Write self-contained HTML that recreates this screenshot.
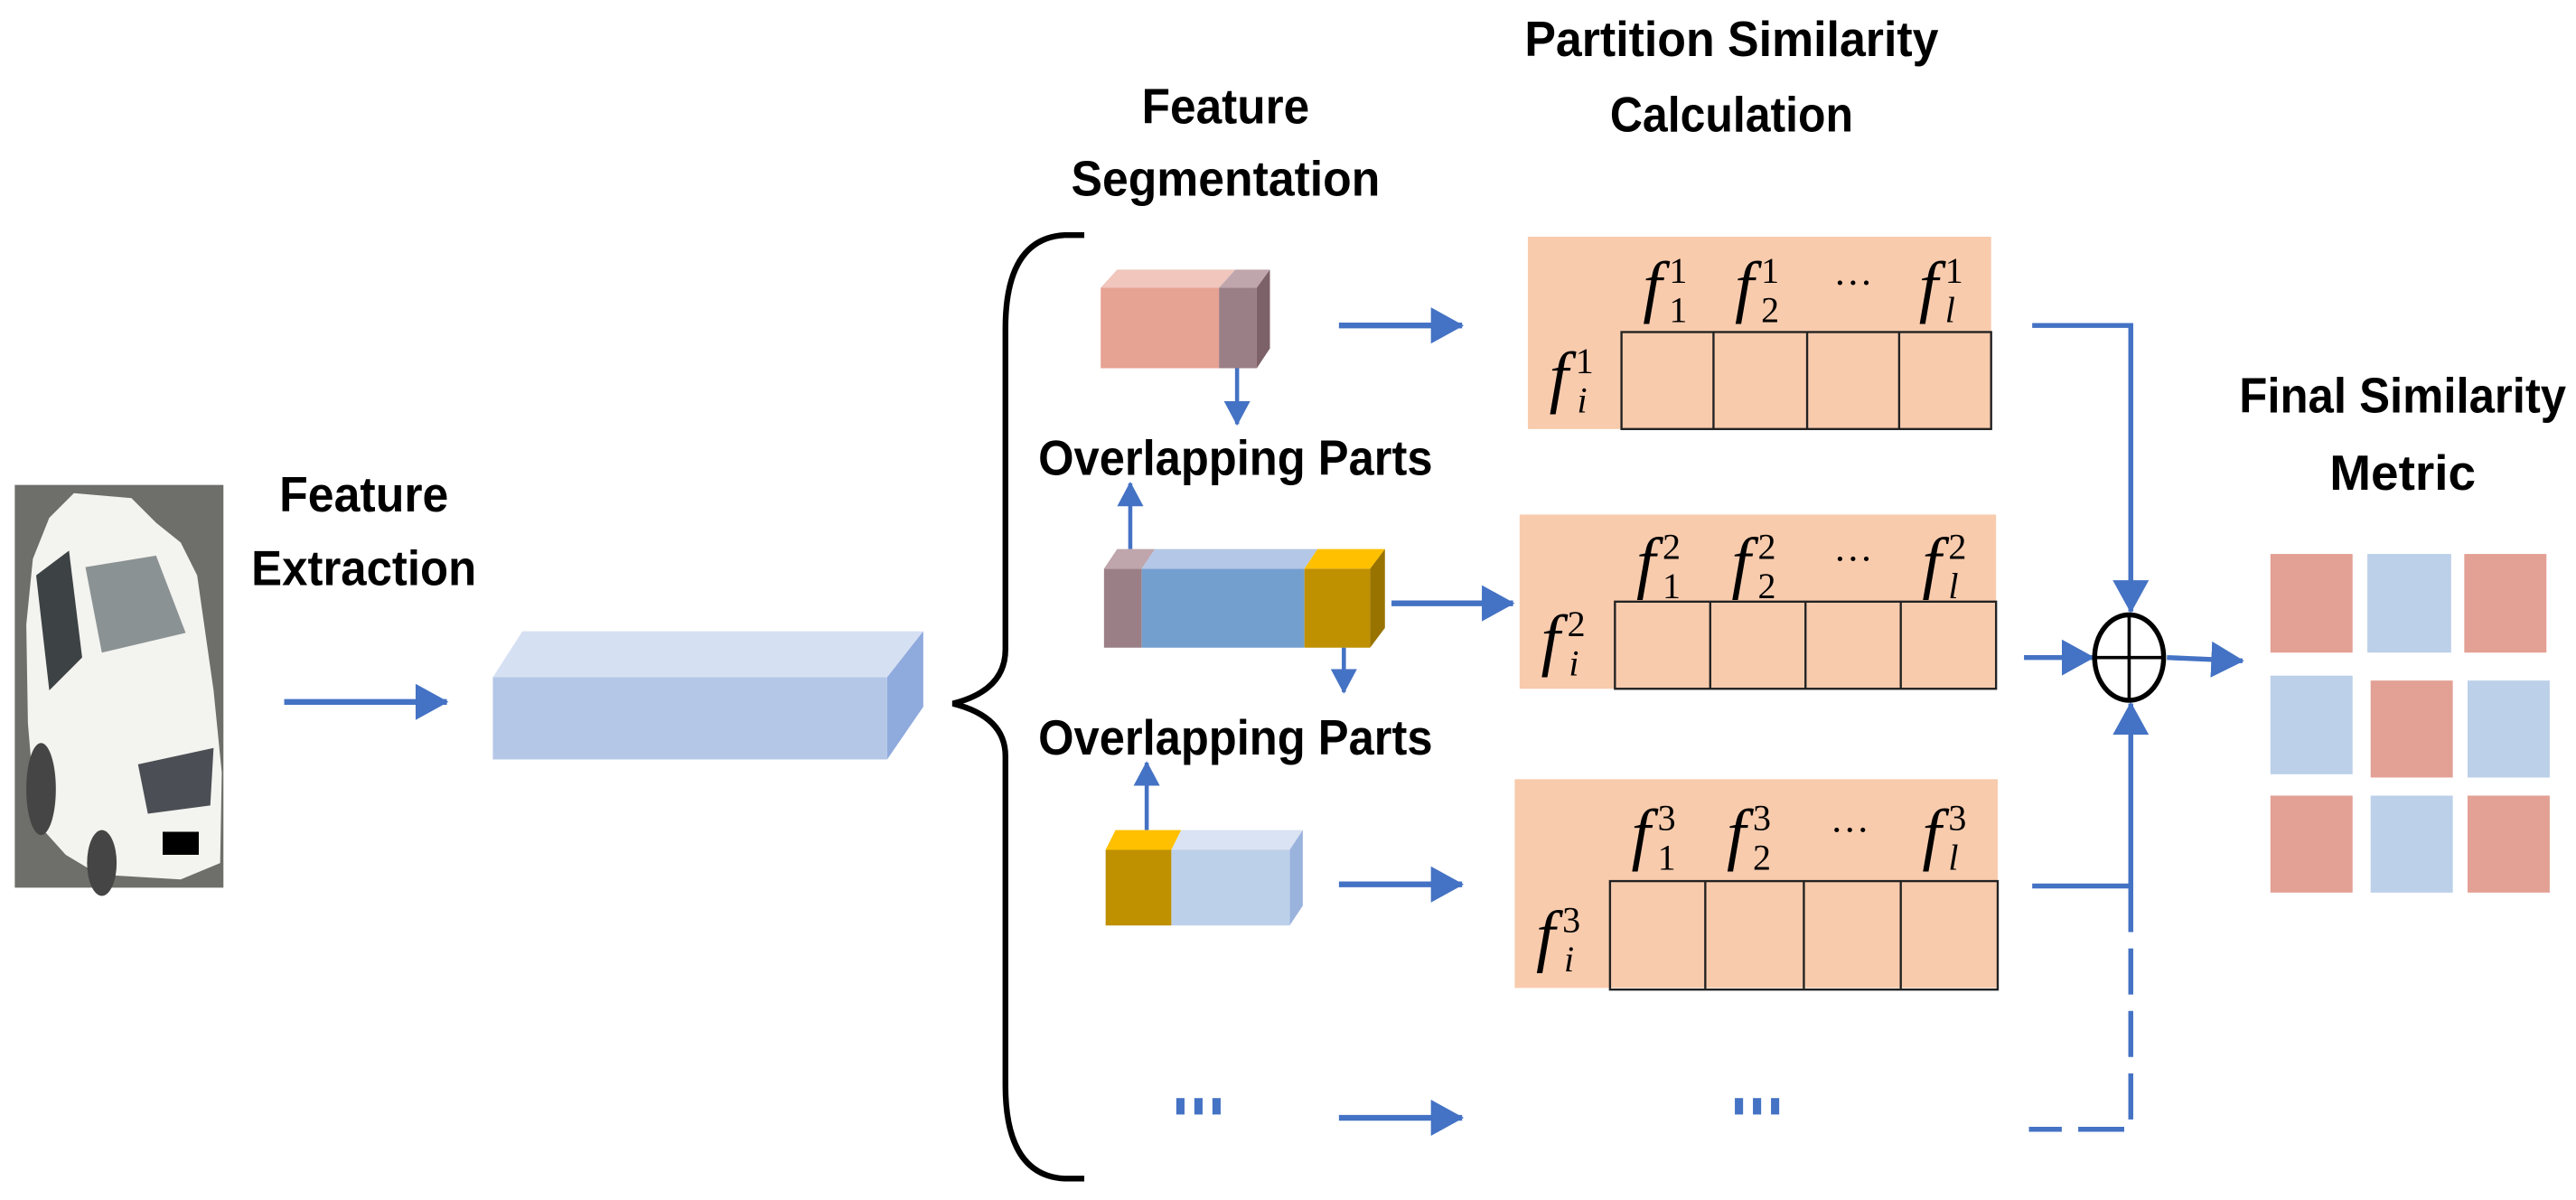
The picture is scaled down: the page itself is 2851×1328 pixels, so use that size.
<!DOCTYPE html>
<html><head><meta charset="utf-8"><style>
html,body{margin:0;padding:0;background:#fff;}
svg{display:block;}
.t{font-family:"Liberation Sans",sans-serif;font-weight:bold;font-size:30px;fill:#000;}
.m{font-family:"Liberation Serif",serif;font-style:italic;fill:#000;}
.n{font-style:normal;}
</style></head><body>
<svg width="2851" height="1328" viewBox="0 0 1568 730" preserveAspectRatio="none" xmlns="http://www.w3.org/2000/svg">
<defs>
<marker id="a" markerUnits="userSpaceOnUse" markerWidth="22" markerHeight="24" refX="19" refY="11" orient="auto">
<path d="M0,0 L20,11 L0,22 Z" fill="#4472c4"/></marker>
<marker id="s" markerUnits="userSpaceOnUse" markerWidth="16" markerHeight="18" refX="14" refY="8" orient="auto">
<path d="M0,0 L15,8 L0,16 Z" fill="#4472c4"/></marker>
</defs>
<!-- car photo -->
<rect x="9" y="295" width="127" height="245" fill="#6e6e6a"/>
<path d="M30,315 L45,300 L80,303 L95,318 L110,330 L120,350 L130,420 L135,470 L134,525 L110,535 L60,532 L40,520 L22,500 L17,440 L16,380 L20,340 Z" fill="#f3f3ef"/>
<path d="M52,345 L95,338 L113,385 L62,397 Z" fill="#8b9294"/>
<path d="M22,350 L42,335 L50,400 L30,420 Z" fill="#3d4245"/>
<path d="M84,465 L130,455 L128,490 L90,495 Z" fill="#4b4f55"/>
<rect x="99" y="506" width="22" height="14" fill="#000"/>
<ellipse cx="25" cy="480" rx="9" ry="28" fill="#454545"/>
<ellipse cx="62" cy="525" rx="9" ry="20" fill="#454545"/>
<!-- feature extraction -->
<text class="t" x="170" y="311" textLength="103" lengthAdjust="spacingAndGlyphs">Feature</text>
<text class="t" x="153" y="356" textLength="137" lengthAdjust="spacingAndGlyphs">Extraction</text>
<line x1="173" y1="427" x2="272" y2="427" stroke="#4472c4" stroke-width="3.5" marker-end="url(#a)"/>
<!-- big box -->
<polygon points="300,412 318,384 562,384 540,412" fill="#d6e0f3"/>
<polygon points="540,412 562,384 562,430 540,462" fill="#8faadc"/>
<rect x="300" y="412" width="240" height="50" fill="#b4c7e7"/>
<!-- brace -->
<path d="M660,143 L648,143 Q612,145 612,200 L612,395 Q612,420 580,428 Q612,436 612,460 L612,660 Q612,715 648,717 L660,717" fill="none" stroke="#000" stroke-width="3.5"/>
<!-- headings -->
<text class="t" x="695" y="75" textLength="102" lengthAdjust="spacingAndGlyphs">Feature</text>
<text class="t" x="652" y="119" textLength="188" lengthAdjust="spacingAndGlyphs">Segmentation</text>
<text class="t" x="928" y="34" textLength="252" lengthAdjust="spacingAndGlyphs">Partition Similarity</text>
<text class="t" x="980" y="80" textLength="148" lengthAdjust="spacingAndGlyphs">Calculation</text>
<text class="t" x="632" y="289" textLength="240" lengthAdjust="spacingAndGlyphs">Overlapping Parts</text>
<text class="t" x="632" y="459" textLength="240" lengthAdjust="spacingAndGlyphs">Overlapping Parts</text>
<text class="t" x="1363" y="251" textLength="199" lengthAdjust="spacingAndGlyphs">Final Similarity</text>
<text class="t" x="1418" y="298" textLength="89" lengthAdjust="spacingAndGlyphs">Metric</text>
<!-- box1 -->
<polygon points="670,175 680,164 752,164 742,175" fill="#f0c6bd"/>
<polygon points="742,175 752,164 773,164 765,175" fill="#bfa6ac"/>
<polygon points="765,175 773,164 773,212 765,224" fill="#7d6168"/>
<rect x="670" y="175" width="72" height="49" fill="#e6a293"/>
<rect x="742" y="175" width="23" height="49" fill="#9b7f86"/>
<line x1="753" y1="224" x2="753" y2="258" stroke="#4472c4" stroke-width="2.5" marker-end="url(#s)"/>
<!-- box2 -->
<line x1="688" y1="334" x2="688" y2="294" stroke="#4472c4" stroke-width="2.5" marker-end="url(#s)"/>
<polygon points="672,346 680,334 703,334 695,346" fill="#bfa6ac"/>
<polygon points="695,346 703,334 802,334 794,346" fill="#b4c7e7"/>
<polygon points="794,346 802,334 843,334 834,346" fill="#ffc000"/>
<polygon points="834,346 843,334 843,382 834,394" fill="#997300"/>
<rect x="672" y="346" width="23" height="48" fill="#9b7f86"/>
<rect x="695" y="346" width="99" height="48" fill="#739fcf"/>
<rect x="794" y="346" width="40" height="48" fill="#bf9000"/>
<line x1="818" y1="394" x2="818" y2="421" stroke="#4472c4" stroke-width="2.5" marker-end="url(#s)"/>
<!-- box3 -->
<line x1="698" y1="505" x2="698" y2="464" stroke="#4472c4" stroke-width="2.5" marker-end="url(#s)"/>
<polygon points="673,517 679,505 719,505 713,517" fill="#ffc000"/>
<polygon points="713,517 719,505 793,505 785,517" fill="#dae3f3"/>
<polygon points="785,517 793,505 793,551 785,563" fill="#9ab3dd"/>
<rect x="673" y="517" width="40" height="46" fill="#bf9000"/>
<rect x="713" y="517" width="72" height="46" fill="#bdd0ea"/>
<!-- arrows to panels -->
<line x1="815" y1="198" x2="890" y2="198" stroke="#4472c4" stroke-width="3.5" marker-end="url(#a)"/>
<line x1="847" y1="367" x2="921" y2="367" stroke="#4472c4" stroke-width="3.5" marker-end="url(#a)"/>
<line x1="815" y1="538" x2="890" y2="538" stroke="#4472c4" stroke-width="3.5" marker-end="url(#a)"/>
<line x1="815" y1="680" x2="890" y2="680" stroke="#4472c4" stroke-width="3.5" marker-end="url(#a)"/>
<!-- blue ellipsis -->
<g fill="#4472c4"><rect x="716" y="668" width="5" height="10"/><rect x="727" y="668" width="5" height="10"/><rect x="738" y="668" width="5" height="10"/>
<rect x="1056" y="668" width="5" height="10"/><rect x="1067" y="668" width="5" height="10"/><rect x="1078" y="668" width="5" height="10"/></g>
<!-- panel1 -->
<rect x="930" y="144" width="282" height="117" fill="#f8cbad"/>
<g fill="none" stroke="#222" stroke-width="1.3"><rect x="987" y="202" width="225" height="59"/>
<line x1="1043" y1="202" x2="1043" y2="261"/><line x1="1100" y1="202" x2="1100" y2="261"/><line x1="1156" y1="202" x2="1156" y2="261"/></g>
<!-- panel2 -->
<rect x="925" y="313" width="290" height="106" fill="#f8cbad"/>
<g fill="none" stroke="#222" stroke-width="1.3"><rect x="983" y="366" width="232" height="53"/>
<line x1="1041" y1="366" x2="1041" y2="419"/><line x1="1099" y1="366" x2="1099" y2="419"/><line x1="1157" y1="366" x2="1157" y2="419"/></g>
<!-- panel3 -->
<rect x="922" y="474" width="294" height="127" fill="#f8cbad"/>
<g fill="none" stroke="#222" stroke-width="1.3"><rect x="980" y="536" width="236" height="66"/>
<line x1="1038" y1="536" x2="1038" y2="602"/><line x1="1098" y1="536" x2="1098" y2="602"/><line x1="1157" y1="536" x2="1157" y2="602"/></g>
<!-- math labels -->
<g class="m">
<text x="1000" y="188" font-size="42">f</text><text x="1016" y="172" font-size="22" class="n">1</text><text x="1016" y="196" font-size="22" class="n">1</text>
<text x="1056" y="188" font-size="42">f</text><text x="1072" y="172" font-size="22" class="n">1</text><text x="1072" y="196" font-size="22" class="n">2</text>
<text x="1116" y="180" font-size="24" class="n">···</text>
<text x="1168" y="188" font-size="42">f</text><text x="1184" y="172" font-size="22" class="n">1</text><text x="1184" y="196" font-size="22">l</text>
<text x="943" y="243" font-size="42">f</text><text x="959" y="227" font-size="22" class="n">1</text><text x="960" y="251" font-size="22">i</text>

<text x="996" y="356" font-size="42">f</text><text x="1012" y="340" font-size="22" class="n">2</text><text x="1012" y="364" font-size="22" class="n">1</text>
<text x="1054" y="356" font-size="42">f</text><text x="1070" y="340" font-size="22" class="n">2</text><text x="1070" y="364" font-size="22" class="n">2</text>
<text x="1116" y="348" font-size="24" class="n">···</text>
<text x="1170" y="356" font-size="42">f</text><text x="1186" y="340" font-size="22" class="n">2</text><text x="1186" y="364" font-size="22">l</text>
<text x="938" y="403" font-size="42">f</text><text x="954" y="387" font-size="22" class="n">2</text><text x="955" y="411" font-size="22">i</text>

<text x="993" y="521" font-size="42">f</text><text x="1009" y="505" font-size="22" class="n">3</text><text x="1009" y="529" font-size="22" class="n">1</text>
<text x="1051" y="521" font-size="42">f</text><text x="1067" y="505" font-size="22" class="n">3</text><text x="1067" y="529" font-size="22" class="n">2</text>
<text x="1114" y="513" font-size="24" class="n">···</text>
<text x="1170" y="521" font-size="42">f</text><text x="1186" y="505" font-size="22" class="n">3</text><text x="1186" y="529" font-size="22">l</text>
<text x="935" y="583" font-size="42">f</text><text x="951" y="567" font-size="22" class="n">3</text><text x="952" y="591" font-size="22">i</text>
</g>
<!-- right connectors -->
<polyline points="1237,198 1297,198 1297,372" fill="none" stroke="#4472c4" stroke-width="3" marker-end="url(#a)"/>
<line x1="1232" y1="400" x2="1274" y2="400" stroke="#4472c4" stroke-width="3" marker-end="url(#a)"/>
<polyline points="1237,539 1297,539 1297,428" fill="none" stroke="#4472c4" stroke-width="3" marker-end="url(#a)"/>
<polyline points="1297,539 1297,687 1235,687" fill="none" stroke="#4472c4" stroke-width="3" stroke-dasharray="28,10"/>
<line x1="1319" y1="400" x2="1365" y2="402" stroke="#4472c4" stroke-width="3" marker-end="url(#a)"/>
<ellipse cx="1296" cy="400" rx="21" ry="26" fill="#fff" stroke="#000" stroke-width="3"/>
<line x1="1275" y1="400" x2="1317" y2="400" stroke="#000" stroke-width="2"/>
<line x1="1296" y1="374" x2="1296" y2="426" stroke="#000" stroke-width="2"/>
<!-- final grid -->
<g>
<rect x="1382" y="337" width="50" height="60" fill="#e3a094"/>
<rect x="1441" y="337" width="51" height="60" fill="#bcd0e9"/>
<rect x="1500" y="337" width="50" height="60" fill="#e3a094"/>
<rect x="1382" y="411" width="50" height="60" fill="#bcd0e9"/>
<rect x="1443" y="414" width="50" height="59" fill="#e3a094"/>
<rect x="1502" y="414" width="50" height="59" fill="#bcd0e9"/>
<rect x="1382" y="484" width="50" height="59" fill="#e3a094"/>
<rect x="1443" y="484" width="50" height="59" fill="#bcd0e9"/>
<rect x="1502" y="484" width="50" height="59" fill="#e3a094"/>
</g>
</svg>
</body></html>
